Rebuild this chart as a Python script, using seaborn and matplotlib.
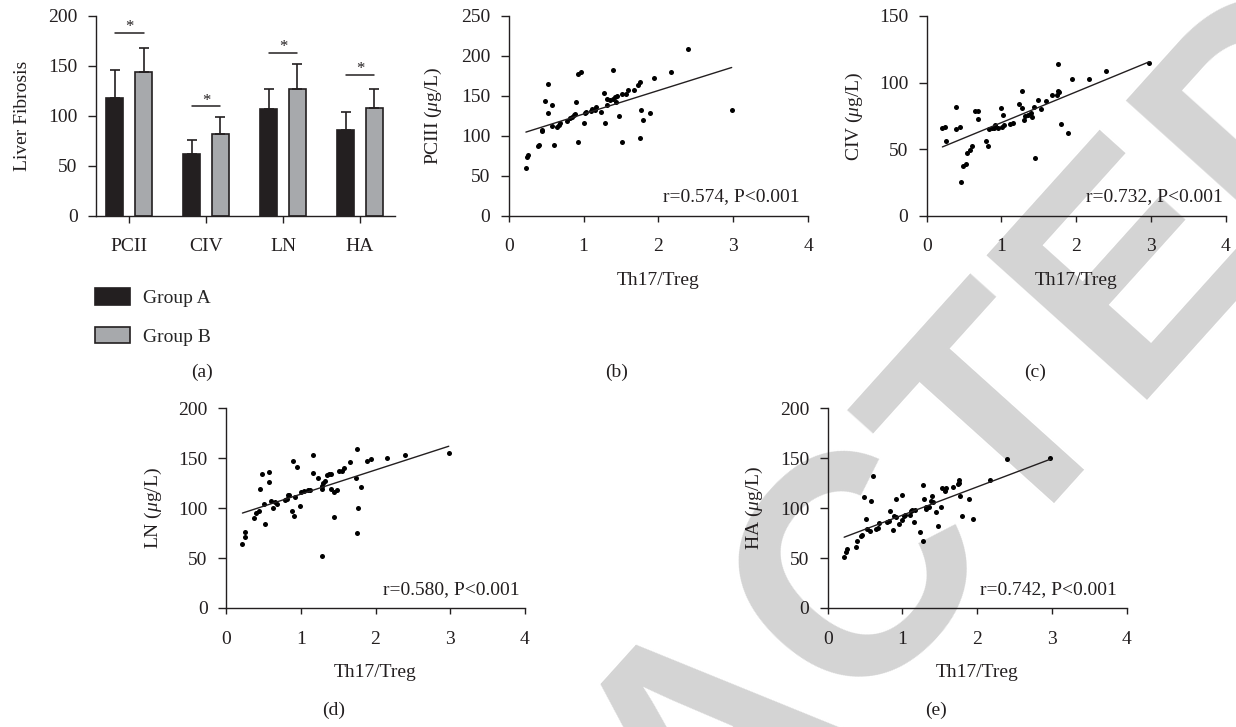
import matplotlib
matplotlib.use("Agg")
import matplotlib.pyplot as plt
import seaborn as sns
import pandas as pd
import numpy as np

# ---------------- data ----------------
categories = ["PCII", "CIV", "LN", "HA"]
groups = ["Group A", "Group B"]
mean_a = [118, 62, 107, 85.5]
mean_b = [143.5, 82, 127, 107.5]
sd_a = [28, 13.5, 19.5, 18]
sd_b = [24.5, 17, 25, 19.5]
sig_heights = [183, 110, 163, 141]

b_x = [0.23, 0.25, 0.26, 0.39, 0.40, 0.45, 0.45, 0.48, 0.53, 0.52, 0.58, 0.58, 0.61, 0.64, 0.67,
       0.68, 0.78, 0.82, 0.84, 0.87, 0.90, 0.89, 0.92, 0.93, 0.96, 1.00, 1.02, 1.03, 1.10, 1.11,
       1.15, 1.17, 1.23, 1.28, 1.29, 1.31, 1.31, 1.35, 1.39, 1.40, 1.42, 1.43, 1.45, 1.48, 1.52,
       1.52, 1.57, 1.59, 1.67, 1.73, 1.75, 1.76, 1.77, 1.80, 1.89, 1.94, 2.17, 2.40, 2.98]
b_y = [60, 74, 76, 87, 89, 106, 107, 144, 165, 128, 138, 112, 88, 111, 113,
       116, 119, 122, 124, 126, 142, 127, 92, 177, 180, 116, 128, 130, 131, 133,
       132, 136, 130, 154, 116, 146, 138, 145, 146, 182, 149, 142, 150, 125, 92,
       152, 152, 157, 157, 164, 168, 97, 132, 120, 128, 172, 180, 209, 132]

c_x = [0.21, 0.25, 0.26, 0.39, 0.39, 0.45, 0.46, 0.48, 0.52, 0.54, 0.58, 0.60, 0.64, 0.68, 0.68,
       0.79, 0.82, 0.83, 0.87, 0.90, 0.92, 0.95, 1.00, 1.02, 1.01, 1.04, 1.11, 1.15, 1.23, 1.28,
       1.28, 1.30, 1.31, 1.36, 1.39, 1.41, 1.44, 1.45, 1.49, 1.53, 1.59, 1.67, 1.74, 1.75, 1.76,
       1.77, 1.80, 1.89, 1.94, 2.17, 2.40, 2.98]
c_y = [66, 67, 56, 82, 65, 67, 25, 37, 39, 47, 49, 52, 79, 79, 73,
       56, 52, 65, 66, 66, 68, 66, 81, 76, 67, 68, 69, 70, 84, 94,
       81, 72, 75, 76, 77, 74, 82, 43, 87, 80, 86, 91, 91, 94, 114,
       93, 69, 62, 103, 103, 109, 115]

d_x = [0.22, 0.25, 0.25, 0.38, 0.40, 0.44, 0.46, 0.48, 0.51, 0.52, 0.57, 0.57, 0.60, 0.63, 0.66,
       0.68, 0.79, 0.81, 0.83, 0.84, 0.88, 0.90, 0.91, 0.92, 0.95, 0.99, 1.01, 1.04, 1.10, 1.12,
       1.16, 1.16, 1.23, 1.28, 1.28, 1.29, 1.30, 1.32, 1.35, 1.38, 1.40, 1.40, 1.44, 1.44, 1.48,
       1.51, 1.55, 1.58, 1.66, 1.74, 1.75, 1.75, 1.77, 1.80, 1.89, 1.94, 2.16, 2.40, 2.98]
d_y = [64, 76, 71, 90, 95, 97, 119, 134, 104, 84, 136, 126, 107, 100, 106,
       104, 108, 109, 113, 113, 97, 147, 92, 111, 141, 102, 116, 117, 118, 118,
       153, 135, 130, 52, 119, 122, 125, 127, 133, 134, 134, 119, 116, 91, 118,
       137, 137, 140, 146, 130, 159, 75, 100, 121, 147, 149, 150, 153, 155]

e_x = [0.22, 0.25, 0.26, 0.38, 0.39, 0.44, 0.46, 0.48, 0.51, 0.53, 0.58, 0.57, 0.61, 0.64, 0.67,
       0.68, 0.79, 0.82, 0.84, 0.87, 0.89, 0.91, 0.92, 0.95, 0.99, 1.00, 1.02, 1.04, 1.10, 1.11,
       1.13, 1.16, 1.17, 1.23, 1.28, 1.28, 1.29, 1.31, 1.32, 1.36, 1.38, 1.40, 1.41, 1.45, 1.48,
       1.52, 1.53, 1.57, 1.58, 1.67, 1.74, 1.76, 1.76, 1.77, 1.80, 1.89, 1.94, 2.17, 2.40, 2.98]
e_y = [51, 56, 59, 61, 67, 72, 73, 111, 89, 79, 107, 77, 132, 79, 80,
       85, 86, 87, 97, 78, 92, 109, 91, 84, 113, 88, 92, 93, 93, 97,
       98, 86, 98, 76, 123, 67, 109, 99, 101, 101, 107, 112, 106, 96, 82,
       101, 120, 117, 120, 121, 124, 128, 125, 112, 92, 109, 89, 128, 149, 150]

x_label = "Th17/Treg"
notes = ["r=0.574, P<0.001", "r=0.732, P<0.001", "r=0.580, P<0.001", "r=0.742, P<0.001"]
panel_labels = ["(a)", "(b)", "(c)", "(d)", "(e)"]

# ---------------- style ----------------
sns.set_theme(style="ticks")
plt.rcParams["font.family"] = ["Liberation Serif", "DejaVu Serif"]
plt.rcParams["mathtext.fontset"] = "custom"
plt.rcParams["mathtext.rm"] = "Liberation Serif"
plt.rcParams["mathtext.it"] = "Liberation Serif:italic"
plt.rcParams["font.size"] = 14
plt.rcParams["axes.linewidth"] = 1.0
plt.rcParams["axes.edgecolor"] = "#231f20"

INK = "#231f20"
GRAY = "#a7a9ac"
W, H = 1236, 727

fig = plt.figure(figsize=(W / 100, H / 100), dpi=100)
fig.patch.set_facecolor("white")

# watermark
fig.text(712 / W, 1 - 738 / H, "RETRACTED", rotation=48, rotation_mode="anchor",
         ha="center", va="center", fontsize=225, fontweight="bold",
         family="Liberation Sans", color="#d4d4d4", zorder=-5)


def px_rect(left, top, right, bottom):
    return [left / W, 1 - bottom / H, (right - left) / W, (bottom - top) / H]


def style_axes(ax, xtick_len=4.3, xpad=12.0):
    sns.despine(ax=ax)
    ax.set_facecolor("none")
    ax.set_zorder(2)
    ax.tick_params(axis="y", length=5.8, width=1.0, pad=7.5, colors=INK, labelsize=14)
    ax.tick_params(axis="x", length=xtick_len, width=1.0, pad=xpad, colors=INK, labelsize=14)
    for s in ("left", "bottom"):
        ax.spines[s].set_linewidth(1.0)
        ax.spines[s].set_color(INK)


# ---------------- (a) bar chart ----------------
bar_df = pd.DataFrame({
    "Marker": categories * 2,
    "Group": [groups[0]] * len(categories) + [groups[1]] * len(categories),
    "Value": mean_a + mean_b,
})
ax_a = fig.add_axes(px_rect(96, 16, 395, 216))
sns.barplot(data=bar_df, x="Marker", y="Value", hue="Group", palette=[INK, GRAY],
            width=0.75, gap=0.41, edgecolor=INK, linewidth=1.2, errorbar=None,
            saturation=1, ax=ax_a)
bar_centers = []
for cont, sds in zip(ax_a.containers, [sd_a, sd_b]):
    xs = [p.get_x() + p.get_width() / 2 for p in cont]
    hs = [p.get_height() for p in cont]
    bar_centers.append(xs)
    ax_a.errorbar(xs, hs, yerr=[np.zeros(len(sds)), sds], fmt="none", ecolor=INK,
                  elinewidth=1.2, capsize=3.3, capthick=1.2, zorder=1)
for x1, x2, h in zip(bar_centers[0], bar_centers[1], sig_heights):
    ax_a.plot([x1, x2], [h, h], color=INK, lw=1.1)
    ax_a.text((x1 + x2) / 2, h + 1.5, "*", ha="center", va="baseline", fontsize=12, color=INK)
ax_a.set_ylim(0, 200)
ax_a.set_yticks([0, 50, 100, 150, 200])
ax_a.set_xlim(-0.43, 3.455)
ax_a.set_xlabel("")
ax_a.set_ylabel("Liver Fibrosis", fontsize=14, color=INK)
ax_a.yaxis.set_label_coords(-0.217, 0.5)
style_axes(ax_a, xtick_len=5.0, xpad=11.0)
handles, labels = ax_a.get_legend_handles_labels()
if ax_a.get_legend() is not None:
    ax_a.get_legend().remove()
fig.legend(handles, labels, loc="upper left", bbox_to_anchor=(95 / W, 1 - 288 / H),
           frameon=False, borderpad=0, borderaxespad=0, handlelength=1.8,
           handleheight=0.93, handletextpad=0.67, labelspacing=1.02, fontsize=14)

# ---------------- scatter panels ----------------
scatter_specs = [
    (px_rect(508.7, 16, 808, 215.7), b_x, b_y, "PCIII ($\\mu$g/L)", 250, notes[0], 0.973, -0.216),
    (px_rect(926.7, 16, 1225.7, 215.7), c_x, c_y, "CIV ($\\mu$g/L)", 150, notes[1], 0.99, -0.206),
    (px_rect(226, 408.3, 525, 608), d_x, d_y, "LN ($\\mu$g/L)", 200, notes[2], 0.983, -0.207),
    (px_rect(827.7, 408.3, 1126.7, 608), e_x, e_y, "HA ($\\mu$g/L)", 200, notes[3], 0.967, -0.21),
]
for rect, xs, ys, ylab, ymax, note, note_x, ylab_x in scatter_specs:
    ax = fig.add_axes(rect)
    sns.regplot(x=np.array(xs), y=np.array(ys), ax=ax, ci=None, truncate=True,
                scatter_kws=dict(s=13, color="#000000", linewidths=0, alpha=1),
                line_kws=dict(color=INK, lw=1.0))
    ax.set_xlim(0, 4)
    ax.set_ylim(0, ymax)
    ax.set_xticks([0, 1, 2, 3, 4])
    ax.set_yticks(np.arange(0, ymax + 1, 50))
    ax.set_xlabel(x_label, fontsize=14, color=INK)
    ax.xaxis.set_label_coords(0.5, -0.28)
    ax.set_ylabel(ylab, fontsize=14, color=INK)
    ax.yaxis.set_label_coords(ylab_x, 0.5)
    ax.text(note_x, 0.094, note, transform=ax.transAxes, ha="right", va="center",
            fontsize=14, color=INK)
    style_axes(ax)

# panel labels
for lab, (px, py) in zip(panel_labels, [(202, 372), (617, 372), (1035, 372), (334, 710), (936, 710)]):
    fig.text(px / W, 1 - py / H, lab, ha="center", va="center", fontsize=14, color=INK)

fig.savefig("out.png", dpi=100, facecolor="white")
